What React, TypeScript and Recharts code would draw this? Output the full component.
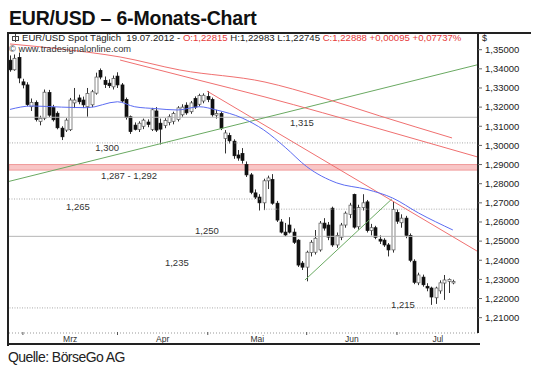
import React from 'react';
import {
  ComposedChart,
  Bar,
  Line,
  XAxis,
  YAxis,
  ReferenceLine,
  ReferenceArea,
  ReferenceDot,
} from 'recharts';

// daily candles 27.02.2012 - 19.07.2012: open, high, low, close
const ohlc: number[][] = [
  [1.3445, 1.347, 1.3385, 1.3395],
  [1.3395, 1.3475, 1.339, 1.3455],
  [1.346, 1.3485, 1.3325, 1.3352],
  [1.3332, 1.3348, 1.3298, 1.3316],
  [1.3316, 1.333, 1.3205, 1.3213],
  [1.3202, 1.3245, 1.318, 1.3225],
  [1.3225, 1.3235, 1.3125, 1.3135],
  [1.3125, 1.3155, 1.3105, 1.3142],
  [1.3142, 1.3292, 1.3132, 1.3278],
  [1.3276, 1.329, 1.3148, 1.3158],
  [1.3198, 1.3212, 1.3125, 1.3134],
  [1.3168, 1.3178, 1.3084, 1.3092],
  [1.309, 1.31, 1.3028, 1.3045],
  [1.308, 1.3142, 1.307, 1.3132],
  [1.3082, 1.3248, 1.3075, 1.3237],
  [1.3222, 1.33, 1.3195, 1.3237],
  [1.3248, 1.3265, 1.3215, 1.3228],
  [1.3237, 1.3255, 1.3195, 1.3212],
  [1.3202, 1.33, 1.315, 1.3272],
  [1.3212, 1.329, 1.32, 1.328],
  [1.3273, 1.338, 1.3265, 1.3357],
  [1.3392, 1.3402, 1.3345, 1.3357],
  [1.334, 1.336, 1.33, 1.3318],
  [1.3325, 1.3345, 1.33, 1.3312],
  [1.3306, 1.3365, 1.3292, 1.335],
  [1.3362, 1.3382, 1.33, 1.3316],
  [1.3316, 1.3326, 1.3222, 1.3232],
  [1.324, 1.325, 1.3135, 1.3145],
  [1.315, 1.3156, 1.306, 1.3072],
  [1.3106, 1.312, 1.3078, 1.3084],
  [1.3084, 1.3126, 1.307, 1.3116],
  [1.31, 1.314, 1.3085, 1.3132],
  [1.3122, 1.3136, 1.3095, 1.311],
  [1.3084, 1.3196, 1.3075, 1.3186],
  [1.318, 1.32, 1.307, 1.308],
  [1.3116, 1.314, 1.3005, 1.3085],
  [1.3104, 1.3142, 1.309, 1.313],
  [1.312, 1.3162, 1.3105, 1.315],
  [1.3126, 1.3176, 1.311, 1.3166],
  [1.3136, 1.3205, 1.3125, 1.3196],
  [1.316, 1.3215, 1.315, 1.32],
  [1.321, 1.3225, 1.316, 1.317],
  [1.3176, 1.3232, 1.3165, 1.3222],
  [1.3245, 1.3256, 1.319, 1.32],
  [1.3215, 1.327, 1.3205, 1.326],
  [1.3232, 1.3272, 1.322, 1.3262],
  [1.3256, 1.3284, 1.3226, 1.324],
  [1.324, 1.325, 1.315, 1.316],
  [1.3158, 1.3186, 1.314, 1.3166],
  [1.3166, 1.3176, 1.308, 1.309],
  [1.3036, 1.308, 1.2958, 1.3065],
  [1.3052, 1.3066, 1.301, 1.3024],
  [1.3022, 1.3032, 1.293, 1.2946],
  [1.295, 1.2976, 1.292, 1.2934],
  [1.2958, 1.2986, 1.2905, 1.2922],
  [1.29, 1.2916, 1.2835, 1.2846],
  [1.2846, 1.2856, 1.2745, 1.2755],
  [1.2752, 1.277, 1.272, 1.273],
  [1.273, 1.2745, 1.266, 1.27],
  [1.27, 1.2826, 1.2662, 1.2815],
  [1.2815, 1.2842, 1.2772, 1.283],
  [1.2822, 1.285, 1.269, 1.2698],
  [1.2698, 1.271, 1.26, 1.261],
  [1.26, 1.2615, 1.254, 1.2547],
  [1.2547, 1.2595, 1.2525, 1.2532],
  [1.2584, 1.2625, 1.254, 1.2547],
  [1.2547, 1.2566, 1.2485, 1.2494],
  [1.2505, 1.251, 1.2365, 1.2375],
  [1.2385, 1.2396, 1.2349, 1.2364],
  [1.2364, 1.245, 1.229, 1.2442],
  [1.244, 1.2505, 1.242, 1.2494],
  [1.2442, 1.2558, 1.243, 1.2515],
  [1.2454, 1.2605, 1.2445, 1.2594],
  [1.2594, 1.262, 1.2555, 1.2568],
  [1.2584, 1.26, 1.2505, 1.2521],
  [1.2672, 1.268, 1.247, 1.248],
  [1.248, 1.2545, 1.2465, 1.253],
  [1.252, 1.2595, 1.2505, 1.2584],
  [1.2584, 1.2655, 1.257, 1.2646],
  [1.264, 1.27, 1.262, 1.2688],
  [1.2744, 1.2748, 1.2565, 1.2573],
  [1.2575, 1.269, 1.256, 1.2675],
  [1.2675, 1.2745, 1.266, 1.27],
  [1.2705, 1.2715, 1.2545, 1.2555],
  [1.2555, 1.259, 1.253, 1.257],
  [1.257, 1.258, 1.251, 1.252],
  [1.251, 1.253, 1.2485, 1.25],
  [1.2505, 1.2515, 1.247, 1.248],
  [1.248, 1.249, 1.242, 1.2454],
  [1.2454, 1.2705, 1.244, 1.2665],
  [1.265, 1.2665, 1.259, 1.2604],
  [1.2596, 1.264, 1.257, 1.262],
  [1.262, 1.2632, 1.2515, 1.253],
  [1.253, 1.254, 1.239, 1.24],
  [1.2395, 1.2405, 1.2275, 1.2285],
  [1.2282, 1.2335, 1.227, 1.2323],
  [1.2312, 1.2325, 1.2262, 1.2272],
  [1.2264, 1.228, 1.2238, 1.2255],
  [1.2255, 1.2262, 1.2167, 1.2208],
  [1.2204, 1.2262, 1.2172, 1.2255],
  [1.224, 1.2295, 1.2225, 1.2282],
  [1.2281, 1.2323, 1.2193, 1.2297],
  [1.229, 1.2305, 1.2229, 1.23],
  [1.22815, 1.22983, 1.22745, 1.22888],
];

// first trading day of each month (candle index) and label positions
const monthStarts = [3, 25, 46, 69, 90];
const monthMids = [14, 35.5, 57.5, 79.5, 99.5];
const monthLabels = ['Mrz', 'Apr', 'Mai', 'Jun', 'Jul'];

const yTicks = [1.21, 1.22, 1.23, 1.24, 1.25, 1.26, 1.27, 1.28, 1.29, 1.3, 1.31, 1.32, 1.33, 1.34, 1.35];

// indicator lines: candle index i, price p
const blueMa = [
  { i: 0, p: 1.3188 }, { i: 5, p: 1.3206 }, { i: 12, p: 1.32 }, { i: 18, p: 1.3197 },
  { i: 25, p: 1.3228 }, { i: 29, p: 1.3202 }, { i: 34, p: 1.3192 }, { i: 39, p: 1.3185 },
  { i: 44, p: 1.3202 }, { i: 48, p: 1.3185 }, { i: 54, p: 1.3143 }, { i: 59, p: 1.3081 },
  { i: 64, p: 1.299 }, { i: 69, p: 1.2889 }, { i: 76, p: 1.2804 }, { i: 83, p: 1.277 },
  { i: 89, p: 1.2725 }, { i: 95, p: 1.2647 }, { i: 103, p: 1.2558 },
];
const redMaUpper = [
  { i: 0, p: 1.353 }, { i: 11.6, p: 1.3504 }, { i: 25.6, p: 1.3462 }, { i: 39.5, p: 1.3394 },
  { i: 59.3, p: 1.3331 }, { i: 72.1, p: 1.3253 }, { i: 86, p: 1.3154 }, { i: 102.8, p: 1.3039 },
];
const redMaLower = [
  { i: 25.6, p: 1.3446 }, { i: 43.7, p: 1.3342 }, { i: 59.3, p: 1.3253 }, { i: 86, p: 1.3086 },
  { i: 108.84, p: 1.2939 },
];
const redTrend = [{ i: 45.8, p: 1.3284 }, { i: 108.84, p: 1.2445 }];
const greenTrendLong = [{ i: -0.233, p: 1.2812 }, { i: 108.84, p: 1.3422 }];
const greenTrendShort = [{ i: 68.6, p: 1.2297 }, { i: 88.8, p: 1.272 }];

const solidLevels = [1.3147, 1.2525];
const dottedLevels = [1.3013, 1.2151];
const band = [1.2871, 1.29];

const levelNotes = [
  { i: 67.9, p: 1.3122, text: '1,315' },
  { i: 22.6, p: 1.2989, text: '1,300' },
  { i: 27.7, p: 1.2843, text: '1,287 - 1,292' },
  { i: 15.8, p: 1.2681, text: '1,265' },
  { i: 45.8, p: 1.2556, text: '1,250' },
  { i: 38.8, p: 1.2389, text: '1,235' },
  { i: 91.4, p: 1.2167, text: '1,215' },
];

const candles = ohlc.map(([o, h, l, c], i) => ({ i, o, h, l, c, range: [l, h] }));

const sans = "'Liberation Sans', Arial, sans-serif";

const Candle = (props: any) => {
  const { x, y, width, height, payload } = props;
  if (x == null || y == null) return null;
  const { o, h, l, c } = payload;
  const top = Math.min(y, y + height);
  const span = Math.abs(height);
  const toY = (v: number) => (h === l ? top : top + ((h - v) / (h - l)) * span);
  const cx = Math.round(x + width / 2) + 0.5;
  const bTop = toY(Math.max(o, c));
  const bBot = toY(Math.min(o, c));
  const up = c >= o;
  return (
    <g>
      <line x1={cx} x2={cx} y1={top} y2={top + span} stroke="#333" strokeWidth={1} />
      <rect
        x={cx - 1.5}
        y={bTop}
        width={3}
        height={Math.max(bBot - bTop, 0.8)}
        fill={up ? '#fff' : '#111'}
        stroke={up ? '#555' : '#111'}
        strokeWidth={0.7}
      />
    </g>
  );
};

const MonthTick = (props: any) => {
  const { x, y, payload } = props;
  if (monthStarts.includes(payload.value)) {
    return <line x1={x} x2={x} y1={y - 1} y2={y + 2} stroke="#555" strokeWidth={1} />;
  }
  const k = monthMids.indexOf(payload.value);
  return (
    <text x={x} y={y + 9} textAnchor="middle" fontSize={8.5} fill="#333" fontFamily={sans}>
      {monthLabels[k]}
    </text>
  );
};

const NoteText = (props: any) => (
  <text
    x={props.cx}
    y={props.cy}
    textAnchor="middle"
    dominantBaseline="central"
    fontSize={9.5}
    fill="#333"
    fontFamily={sans}
  >
    {props.text}
  </text>
);

export default function App() {
  return (
    <div style={{ position: 'absolute', left: 0, top: 0, width: 535, height: 368, background: '#fff', fontFamily: sans }}>
      <div style={{ position: 'absolute', left: 9, top: 8, fontSize: 19.5, lineHeight: '20px', fontWeight: 700, color: '#111', letterSpacing: -0.2 }}>
        EUR/USD – 6-Monats-Chart
      </div>

      <ComposedChart
        width={524}
        height={309}
        data={candles}
        margin={{ top: 0, right: 0, bottom: 0, left: 0 }}
        style={{ position: 'absolute', left: 9, top: 34 }}
      >
        <XAxis
          type="number"
          dataKey="i"
          domain={[-0.233, 108.84]}
          allowDataOverflow
          ticks={[...monthStarts, ...monthMids]}
          interval={0}
          tick={<MonthTick />}
          tickLine={false}
          tickSize={0}
          tickMargin={0}
          axisLine={{ stroke: '#999', strokeDasharray: '1 2' }}
          height={10}
        />
        <YAxis
          orientation="right"
          type="number"
          domain={[1.202, 1.3582]}
          allowDataOverflow
          ticks={yTicks}
          interval={0}
          tickFormatter={(v: number) => v.toFixed(5).replace('.', ',')}
          width={55}
          tickSize={4}
          tickMargin={3}
          tick={{ fontSize: 9.5, fill: '#222', fontFamily: sans }}
          tickLine={{ stroke: '#666' }}
          axisLine={{ stroke: '#222', strokeWidth: 2 }}
        />

        <ReferenceArea y1={band[0]} y2={band[1]} fill="#f8c6c6" fillOpacity={1} stroke="#f09a9a" strokeWidth={1} />
        {solidLevels.map((v) => (
          <ReferenceLine key={'s' + v} y={v} stroke="#b5b5b5" strokeWidth={1} />
        ))}
        {dottedLevels.map((v) => (
          <ReferenceLine key={'d' + v} y={v} stroke="#aaa" strokeWidth={1} strokeDasharray="1 1.5" />
        ))}
        <ReferenceLine segment={[{ x: -0.233, y: 1.272 }, { x: 59, y: 1.272 }]} stroke="#aaa" strokeDasharray="1 1.5" />
        <ReferenceLine segment={[{ x: 59, y: 1.2667 }, { x: 108.84, y: 1.2667 }]} stroke="#aaa" strokeDasharray="1 1.5" />

        {levelNotes.map((n) => (
          <ReferenceDot key={n.text} x={n.i} y={n.p} r={0} shape={(p: any) => <NoteText {...p} text={n.text} />} />
        ))}

        <Line data={greenTrendLong} dataKey="p" type="linear" stroke="#6aaa62" strokeWidth={1} dot={false} isAnimationActive={false} />
        <Line data={greenTrendShort} dataKey="p" type="linear" stroke="#6aaa62" strokeWidth={1} dot={false} isAnimationActive={false} />
        <Line data={redMaUpper} dataKey="p" type="monotone" stroke="#f07070" strokeWidth={1} dot={false} isAnimationActive={false} />
        <Line data={redMaLower} dataKey="p" type="monotone" stroke="#f07070" strokeWidth={1} dot={false} isAnimationActive={false} />
        <Line data={redTrend} dataKey="p" type="linear" stroke="#f07070" strokeWidth={1} dot={false} isAnimationActive={false} />
        <Line data={blueMa} dataKey="p" type="monotone" stroke="#5c6cf2" strokeWidth={1} dot={false} isAnimationActive={false} />

        <Bar dataKey="range" barSize={3} shape={Candle} isAnimationActive={false} />
      </ComposedChart>

      {/* frame */}
      <div style={{ position: 'absolute', left: 7, top: 32, width: 524, height: 2, background: '#222' }} />
      <div style={{ position: 'absolute', left: 7, top: 32, width: 2, height: 314, background: '#222' }} />
      <div style={{ position: 'absolute', left: 7, top: 343, width: 473, height: 2, background: '#222' }} />

      <div style={{ position: 'absolute', left: 12, top: 33, fontSize: 9.6, lineHeight: '10px', color: '#222', whiteSpace: 'nowrap' }}>
        <svg width={7} height={8} style={{ marginRight: 3, verticalAlign: -1 }}>
          <rect x={0.5} y={2.5} width={6} height={4} fill="none" stroke="#444" strokeWidth={1} />
          <line x1={3.5} x2={3.5} y1={0} y2={8} stroke="#444" strokeWidth={1} />
        </svg>
        EUR/USD Spot Täglich&nbsp;&nbsp;19.07.2012 - <span style={{ color: '#e53a3a' }}>O:1,22815</span> H:1,22983 L:1,22745{' '}
        <span style={{ color: '#e53a3a' }}>C:1,22888 +0,00095 +0,07737%</span>
      </div>
      <div style={{ position: 'absolute', left: 9, top: 44, fontSize: 9.3, lineHeight: '10px', color: '#333', whiteSpace: 'nowrap' }}>
        © www.tradesignalonline.com
      </div>
      <div style={{ position: 'absolute', left: 482, top: 33, fontSize: 9, lineHeight: '10px', color: '#222' }}>$</div>

      <div style={{ position: 'absolute', left: 8, top: 350, fontSize: 14, lineHeight: '14px', color: '#222', letterSpacing: -0.55 }}>
        Quelle: BörseGo AG
      </div>
    </div>
  );
}
